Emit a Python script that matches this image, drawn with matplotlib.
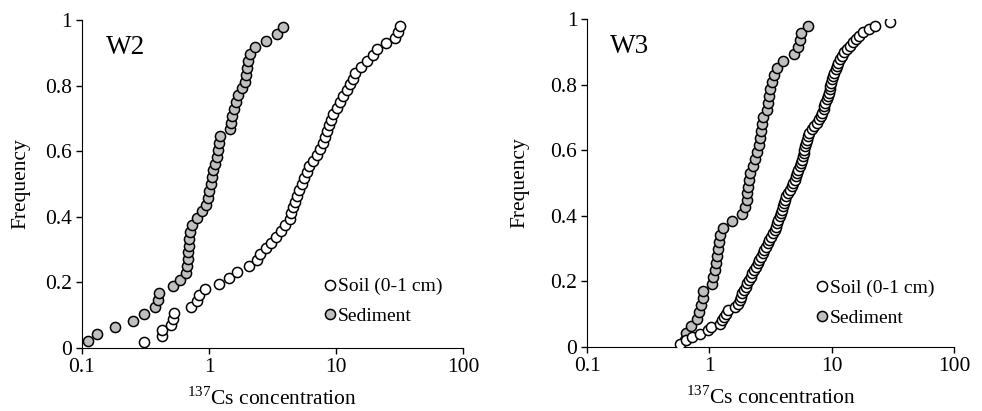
import numpy as np
import matplotlib
matplotlib.use("Agg")
import matplotlib.pyplot as plt

plt.rcParams["font.family"] = ["Liberation Serif", "DejaVu Serif"]
plt.rcParams["mathtext.fontset"] = "custom"
plt.rcParams["mathtext.rm"] = "Liberation Serif"

# 137Cs concentration, sorted
w2_soil = [0.307, 0.424, 0.429, 0.50, 0.52, 0.53, 0.716, 0.808, 0.838, 0.928,
           1.20, 1.44, 1.65, 2.06, 2.37, 2.51, 2.79, 3.05, 3.36, 3.70,
           3.98, 4.38, 4.46, 4.60, 4.77, 4.94, 5.13, 5.35, 5.58, 5.86,
           6.15, 6.61, 7.11, 7.46, 7.83, 8.17, 8.52, 8.83, 9.21, 9.49,
           10.1, 10.7, 11.4, 12.1, 12.8, 13.5, 14.1, 15.6, 17.4, 19.6,
           21.1, 24.7, 29.0, 31.0, 31.8]
w2_sediment = [0.111, 0.132, 0.182, 0.253, 0.307, 0.375, 0.396, 0.403, 0.523, 0.590,
               0.658, 0.666, 0.678, 0.687, 0.695, 0.699, 0.712, 0.733, 0.798, 0.874,
               0.945, 0.975, 0.998, 1.03, 1.05, 1.08, 1.11, 1.15, 1.17, 1.20,
               1.23, 1.46, 1.49, 1.52, 1.56, 1.62, 1.70, 1.81, 1.92, 1.95,
               1.99, 2.04, 2.12, 2.30, 2.79, 3.44, 3.84]
w3_soil = [0.57, 0.64, 0.72, 0.84, 0.97, 1.03, 1.22, 1.26, 1.31, 1.36,
           1.43, 1.63, 1.71, 1.77, 1.81, 1.86, 1.92, 1.98, 2.04, 2.11,
           2.18, 2.25, 2.32, 2.40, 2.48, 2.56, 2.65, 2.73, 2.82, 2.91,
           3.00, 3.10, 3.20, 3.30, 3.41, 3.49, 3.57, 3.66, 3.76, 3.85,
           3.93, 4.02, 4.09, 4.18, 4.27, 4.40, 4.56, 4.70, 4.86, 4.98,
           5.11, 5.23, 5.34, 5.46, 5.58, 5.68, 5.80, 5.89, 5.99, 6.08,
           6.17, 6.26, 6.37, 6.58, 6.84, 7.18, 7.54, 7.83, 8.11, 8.38,
           8.58, 8.73, 8.90, 9.09, 9.28, 9.47, 9.62, 9.74, 9.91, 10.1,
           10.3, 10.5, 10.8, 11.0, 11.3, 11.7, 12.2, 12.7, 13.4, 14.1,
           15.0, 15.9, 16.6, 17.9, 20.0, 22.5, 29.8]
w3_sediment = [0.634, 0.642, 0.710, 0.790, 0.830, 0.857, 0.879, 0.895, 1.047, 1.080,
               1.114, 1.136, 1.15, 1.17, 1.20, 1.22, 1.30, 1.52, 1.86, 1.96,
               2.02, 2.05, 2.08, 2.12, 2.16, 2.29, 2.36, 2.44, 2.56, 2.60,
               2.63, 2.68, 2.73, 2.94, 3.04, 3.09, 3.13, 3.23, 3.38, 3.55,
               4.03, 4.92, 5.33, 5.50, 5.61, 6.44]

panels = [("W2", w2_soil, w2_sediment), ("W3", w3_soil, w3_sediment)]
# axes boxes in figure fraction
boxes = [[0.0835, 0.1533, 0.388, 0.798], [0.5978, 0.1557, 0.3737, 0.798]]
ylab_x = [-0.135, -0.158]
leg_pos = [(0.638, 0.07), (0.627, 0.061)]
name_x = [0.062, 0.063]


def freq(vals):
    n = len(vals)
    return np.arange(1, n + 1) / (n + 1)


fig = plt.figure(figsize=(9.82, 4.11), dpi=100)

for k, (name, soil, sed) in enumerate(panels):
    ax = fig.add_axes(boxes[k])
    ax.plot(sed, freq(sed), "o", ms=7.3, mfc="#bfbfbf", mec="black", mew=1.1,
            label="Sediment", zorder=3)
    ax.plot(soil, freq(soil), "o", ms=7.3, mfc="white", mec="black", mew=1.1,
            label="Soil (0-1 cm)", zorder=3)
    ax.set_xscale("log")
    ax.set_xlim(0.1, 100)
    ax.set_ylim(0, 1)
    ax.set_xticks([0.1, 1, 10, 100])
    ax.set_xticklabels(["0.1", "1", "10", "100"])
    ax.minorticks_off()
    ax.set_yticks([0, 0.2, 0.4, 0.6, 0.8, 1])
    ax.set_yticklabels(["0", "0.2", "0.4", "0.6", "0.8", "1"])
    ax.tick_params(labelsize=15.5, length=4, width=1, direction="out", pad=3)
    for s in ["top", "right"]:
        ax.spines[s].set_visible(False)
    ax.set_xlabel(r"$^{137}$Cs concentration", fontsize=15.5)
    ax.xaxis.set_label_coords(0.5, -0.12)
    ax.set_ylabel("Frequency", fontsize=15.5)
    ax.yaxis.set_label_coords(ylab_x[k], 0.5)
    ax.text(name_x[k], 0.915, name, transform=ax.transAxes, fontsize=19.5,
            va="center", ha="left")
    h, l = ax.get_legend_handles_labels()
    ax.legend(h[::-1], l[::-1], loc="lower left", bbox_to_anchor=leg_pos[k],
              frameon=False, fontsize=14, handlelength=0.5, handletextpad=0.15,
              borderpad=0, borderaxespad=0, labelspacing=0.62)

fig.savefig("out.png", dpi=100)
